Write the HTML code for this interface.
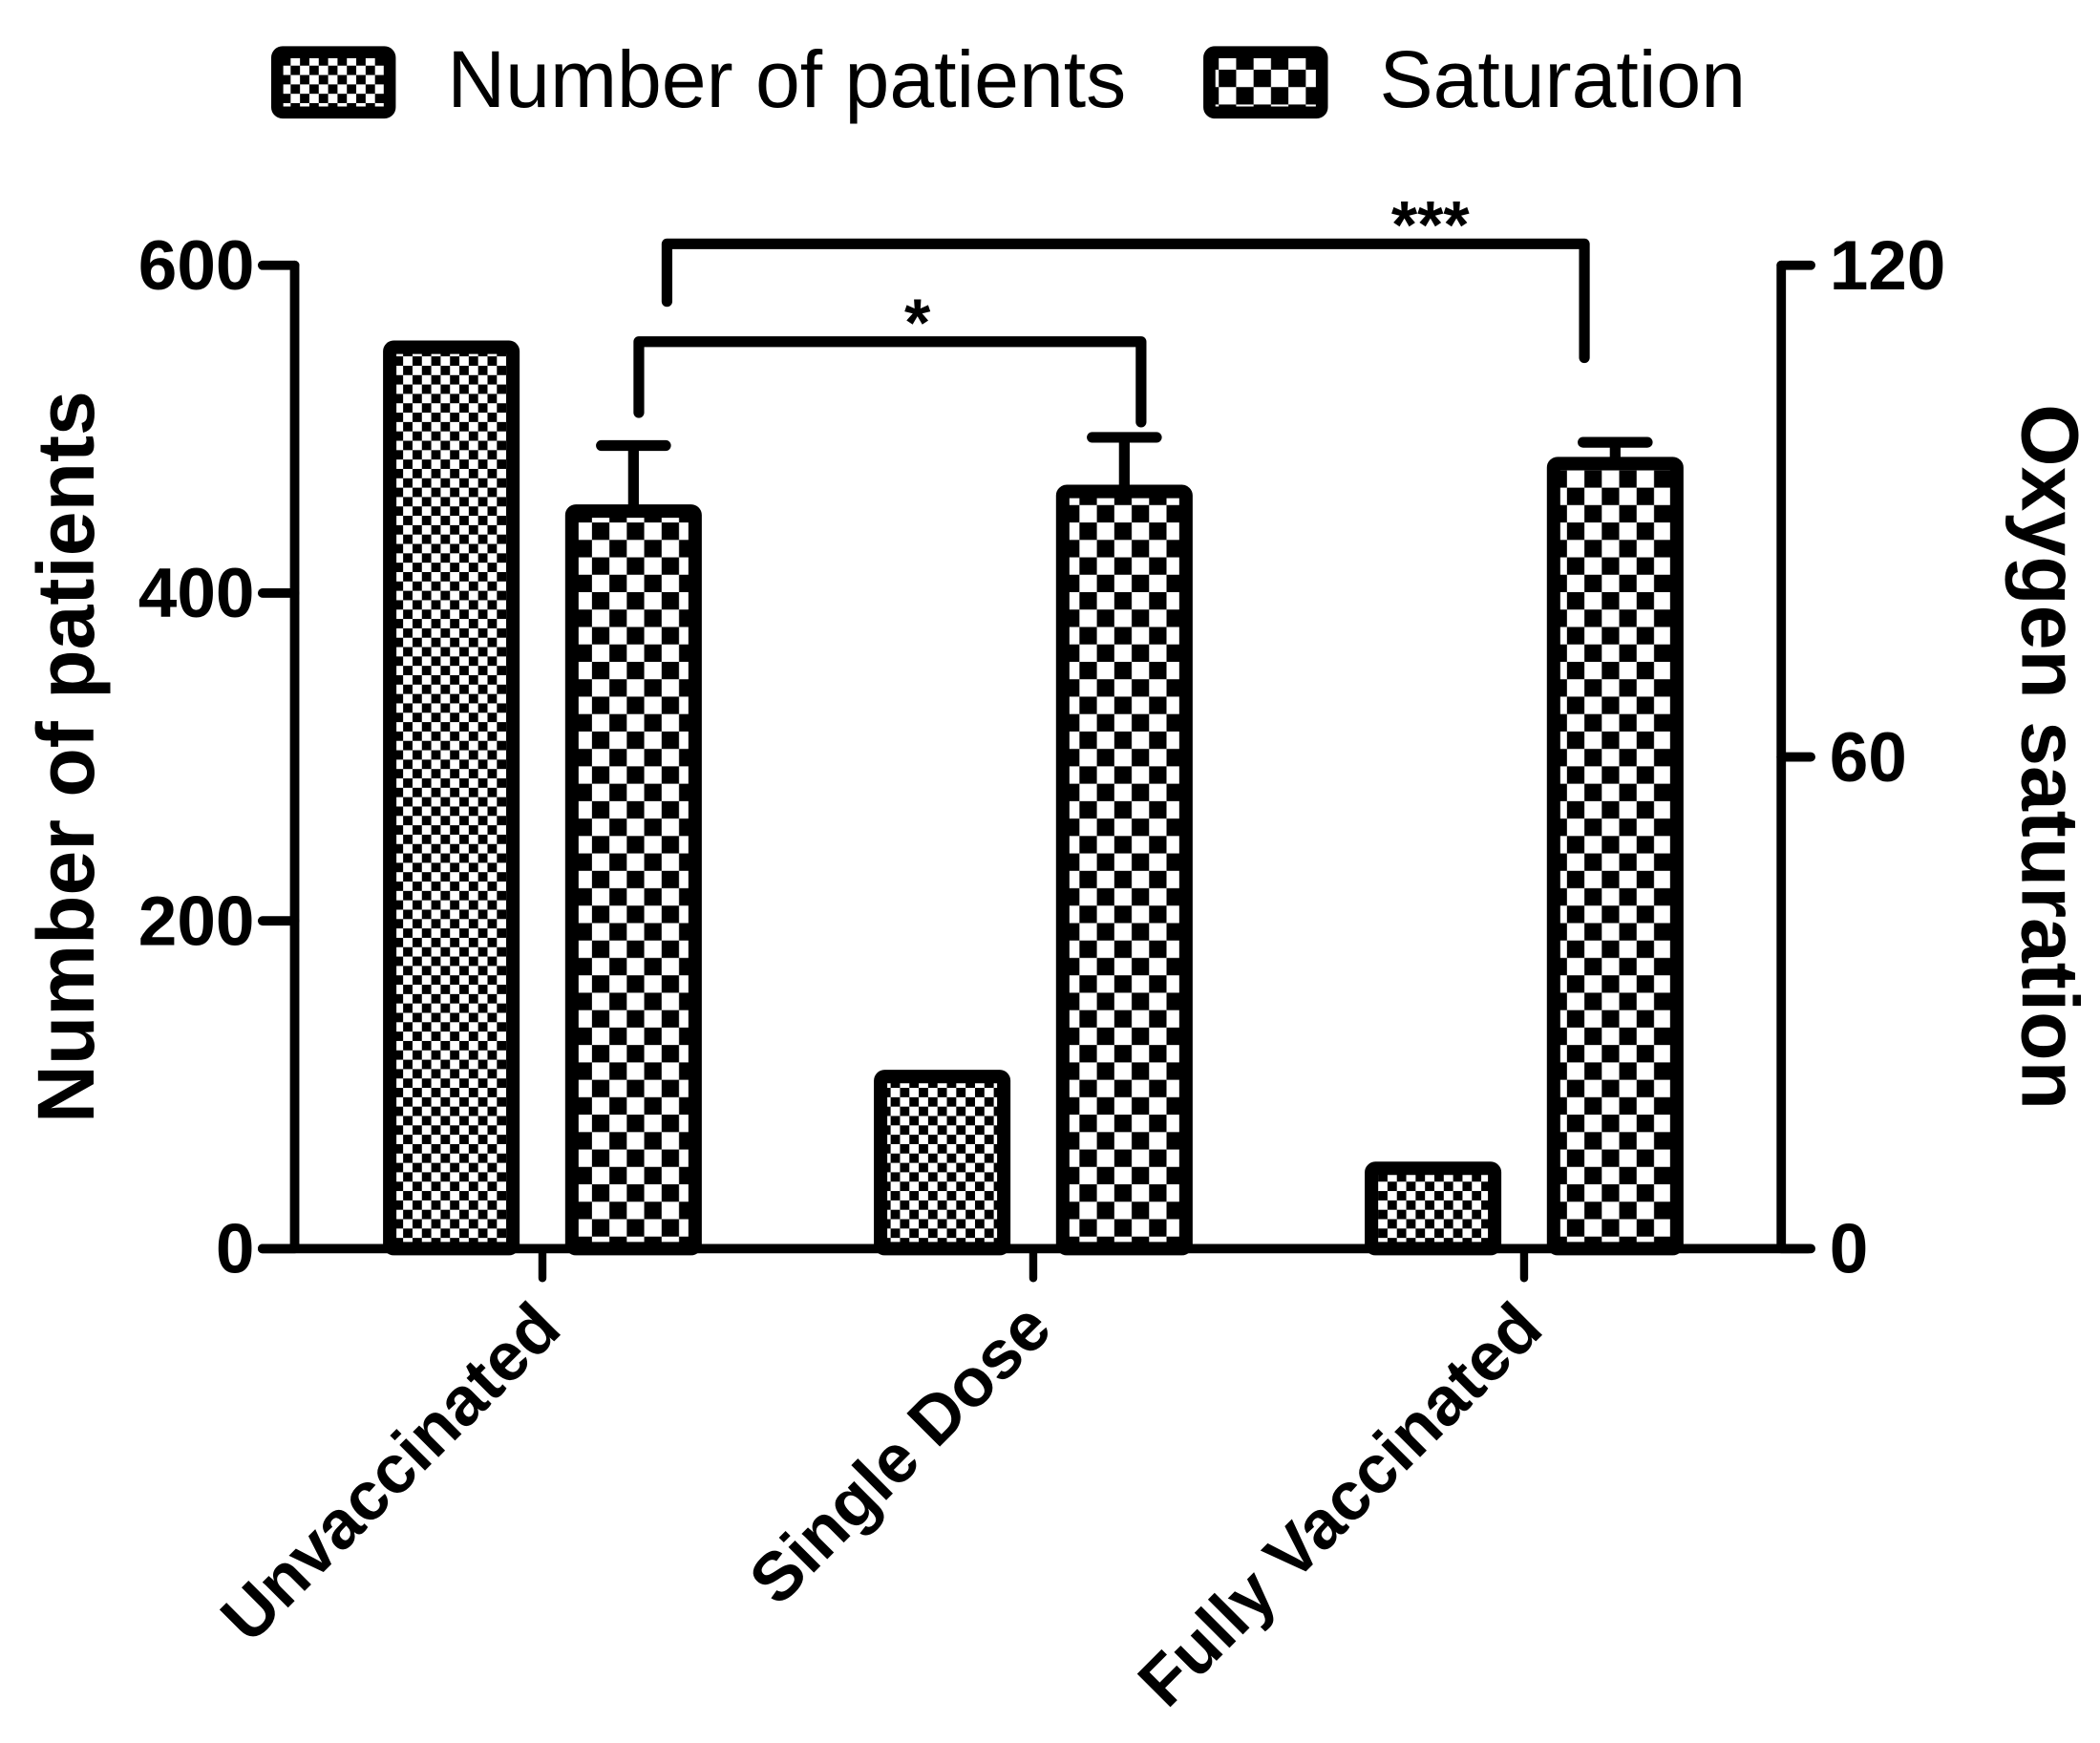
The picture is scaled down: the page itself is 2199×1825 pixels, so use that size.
<!DOCTYPE html>
<html><head><meta charset="utf-8"><style>html,body{margin:0;padding:0;background:#fff}svg{display:block}text{font-family:"Liberation Sans",Arial,sans-serif}</style></head>
<body>
<svg id="chart" width="2199" height="1825" viewBox="0 0 1568 1301" preserveAspectRatio="none" xmlns="http://www.w3.org/2000/svg">
<defs>
<pattern id="fine" patternUnits="userSpaceOnUse" width="14" height="14"><rect width="14" height="14" fill="#fff"/><rect width="7" height="7" fill="#000"/><rect x="7" y="7" width="7" height="7" fill="#000"/></pattern>
<pattern id="coarse" patternUnits="userSpaceOnUse" width="26" height="26"><rect width="26" height="26" fill="#fff"/><rect width="13" height="13" fill="#000"/><rect x="13" y="13" width="13" height="13" fill="#000"/></pattern>
</defs>
<g>
<rect x="207" y="39" width="84" height="45" rx="4" fill="url(#fine)" stroke="#000" stroke-width="9"/>
<text x="334" y="80" font-size="60">Number of patients</text>
<rect x="903" y="39" width="84" height="45" rx="4" fill="url(#coarse)" stroke="#000" stroke-width="9"/>
<text x="1030" y="80" font-size="60">Saturation</text>
</g>
<g id="plot"></g>
<text transform="translate(70,565) rotate(-90)" text-anchor="middle" font-size="60" font-weight="bold">Number of patients</text>
<text transform="translate(1510,565) rotate(90)" text-anchor="middle" font-size="60" font-weight="bold">Oxygen saturation</text>
</svg>
<script>
const categories = ["Unvaccinated", "Single Dose", "Fully Vaccinated"];
const patients = [550, 105, 49];
const saturation = [90, 92.4, 95.8];
const satError = [8, 6.6, 2.6];
const leftTicks = [0, 200, 400, 600];
const rightTicks = [0, 60, 120];

const NS = "http://www.w3.org/2000/svg";
const g = document.getElementById('plot');
const X0 = 220, X1 = 1330, Y0 = 932, YT = 198;
const yL = v => Y0 - (v / 600) * (Y0 - YT);
const yR = v => Y0 - (v / 120) * (Y0 - YT);
const groupX = i => 405 + i * 366.5;
function mk(tag, attrs) { const e = document.createElementNS(NS, tag); for (const k in attrs) e.setAttribute(k, attrs[k]); g.appendChild(e); return e; }

categories.forEach((c, i) => {
  const cx = groupX(i);
  const b1 = mk('rect', {x: cx - 114, y: yL(patients[i]), width: 92, height: Y0 - yL(patients[i]), rx: 3, fill: 'url(#fine)', stroke: '#000', 'stroke-width': 10});
  
  
  const top = yR(saturation[i] + satError[i]);
  const e = mk('path', {d: `M${cx + 68},${yR(saturation[i])} V${top} M${cx + 44},${top} H${cx + 92}`, stroke: '#000', 'stroke-width': 8, 'stroke-linecap': 'round', fill: 'none'});
  
  
  const b2 = mk('rect', {x: cx + 22, y: yR(saturation[i]), width: 92, height: Y0 - yR(saturation[i]), rx: 3, fill: 'url(#coarse)', stroke: '#000', 'stroke-width': 10});
  
  
  const t = mk('path', {d: `M${cx},${Y0} V${Y0 + 22}`, stroke: '#000', 'stroke-width': 6, 'stroke-linecap': 'round'});
  
  
  const lab = mk('text', {transform: `translate(${cx + 16},${Y0 + 62}) rotate(-45)`, 'text-anchor': 'end', 'font-size': 51, 'font-weight': 'bold'});
  lab.textContent = c;
  
  
});

const ax = mk('path', {d: `M${X0},${YT} V${Y0} M196,${Y0} H1350 M${X1},${YT} V${Y0}`, stroke: '#000', 'stroke-width': 7, fill: 'none', 'stroke-linecap': 'round'});


leftTicks.forEach(v => {
  const t = mk('path', {d: `M196,${yL(v)} H${X0}`, stroke: '#000', 'stroke-width': 7, 'stroke-linecap': 'round'});
  
  
  const l = mk('text', {x: 190, y: yL(v) + 18, 'text-anchor': 'end', 'font-size': 52, 'font-weight': 'bold'});
  l.textContent = v;
  
  
});
rightTicks.forEach(v => {
  const t = mk('path', {d: `M${X1},${yR(v)} H1352`, stroke: '#000', 'stroke-width': 7, 'stroke-linecap': 'round'});
  
  
  const l = mk('text', {x: 1366, y: yR(v) + 18, 'font-size': 52, 'font-weight': 'bold'});
  l.textContent = v;
  
  
});

const br1 = mk('path', {d: 'M477,308 V255 H852 V315', stroke: '#000', 'stroke-width': 8, fill: 'none', 'stroke-linecap': 'round', 'stroke-linejoin': 'round'});


const s1 = mk('text', {x: 685, y: 258, 'text-anchor': 'middle', 'font-size': 50, 'font-weight': 'bold'});
s1.textContent = '*';


const br2 = mk('path', {d: 'M498,225 V182 H1183 V267', stroke: '#000', 'stroke-width': 8, fill: 'none', 'stroke-linecap': 'round', 'stroke-linejoin': 'round'});


const s2 = mk('text', {x: 1068, y: 185, 'text-anchor': 'middle', 'font-size': 50, 'font-weight': 'bold'});
s2.textContent = '***';


</script>
</body></html>
